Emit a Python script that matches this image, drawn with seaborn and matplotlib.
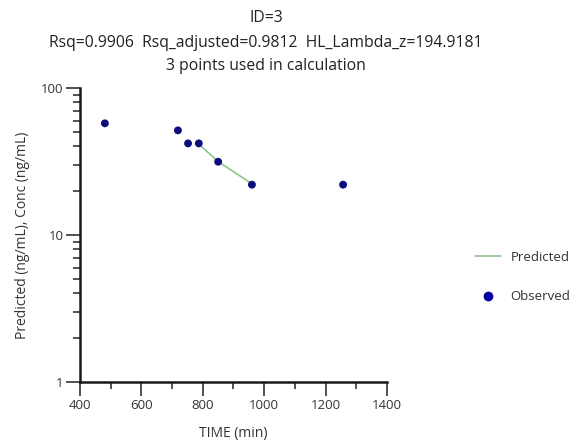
import matplotlib
matplotlib.use("Agg")
import matplotlib.pyplot as plt
from matplotlib.ticker import FixedLocator, LogLocator, NullFormatter, FuncFormatter
from matplotlib.lines import Line2D
import seaborn as sns
import pandas as pd
import numpy as np

# Data
obs_time = [481, 719, 752, 787, 850, 960, 1257]
obs_conc = [57.5, 51.5, 42.0, 42.0, 31.5, 22.0, 22.0]
pred_time = [787, 850, 960]
pred_conc = [41.5, 31.6, 22.3]

title_lines = ["ID=3",
               "Rsq=0.9906  Rsq_adjusted=0.9812  HL_Lambda_z=194.9181",
               "3 points used in calculation"]
x_ticks = [400, 600, 800, 1000, 1200, 1400]
y_ticks = [1, 10, 100]

sns.set_style("ticks")
plt.rcParams['font.family'] = ['Open Sans', 'DejaVu Sans']

obs = pd.DataFrame({"TIME": obs_time, "Conc": obs_conc})
pred = pd.DataFrame({"TIME": pred_time, "Pred": pred_conc})

fig = plt.figure(figsize=(5.77, 4.48), dpi=100)
ax = fig.add_axes([80/577, 1 - 382/448, (387 - 80)/577, (382 - 88)/448])

sns.lineplot(data=pred, x="TIME", y="Pred", ax=ax, color="#8cc68c", linewidth=1.2)
sns.scatterplot(data=obs, x="TIME", y="Conc", ax=ax, color="#0c0c7a", s=32,
                edgecolor="none", zorder=3)

ax.set_yscale("log")
ax.set_xlim(400, 1400)
ax.set_ylim(1, 100)
ax.xaxis.set_major_locator(FixedLocator(x_ticks))
ax.xaxis.set_minor_locator(FixedLocator([500, 700, 900, 1100, 1300]))
ax.yaxis.set_major_locator(FixedLocator(y_ticks))
ax.yaxis.set_minor_locator(LogLocator(base=10, subs=np.arange(2, 10)))
ax.yaxis.set_minor_formatter(NullFormatter())
ax.yaxis.set_major_formatter(FuncFormatter(lambda v, p: f"{v:g}"))

for side in ["top", "right"]:
    ax.spines[side].set_visible(False)
for side in ["left", "bottom"]:
    ax.spines[side].set_color("#1a1a1a")
    ax.spines[side].set_linewidth(1.8)

ax.tick_params(axis="both", which="both", bottom=True, left=True, top=False, right=False)
ax.tick_params(axis="both", which="major", direction="out", length=10, width=1.2,
               color="#333333", labelsize=9.5, labelcolor="#333333", pad=2)
ax.tick_params(axis="both", which="minor", direction="out", length=5, width=1.2,
               color="#333333")

ax.set_xlabel("TIME (min)", fontsize=10, color="#333333", labelpad=10)
ax.set_ylabel("Predicted (ng/mL), Conc (ng/mL)", fontsize=10, color="#333333", labelpad=8)

tx = 266 / 577
fig.text(tx, 1 - 18/448, title_lines[0], ha="center", va="center", fontsize=11.3, color="#222222")
fig.text(tx, 1 - 43/448, title_lines[1], ha="center", va="center", fontsize=11.3, color="#222222")
fig.text(tx, 1 - 66/448, title_lines[2], ha="center", va="center", fontsize=11.3, color="#222222")

handles = [Line2D([0], [0], color="#8cc68c", linewidth=1.2),
           Line2D([0], [0], marker="o", linestyle="none", color="#0000a0", markersize=6)]
fig.legend(handles, ["Predicted", "Observed"], loc="center left",
           bbox_to_anchor=(463/577, 1 - 277/448), frameon=False, fontsize=9.5,
           labelspacing=2.0, handlelength=2.0, handletextpad=0.7,
           labelcolor="#333333")

fig.savefig("out.png", dpi=100)
